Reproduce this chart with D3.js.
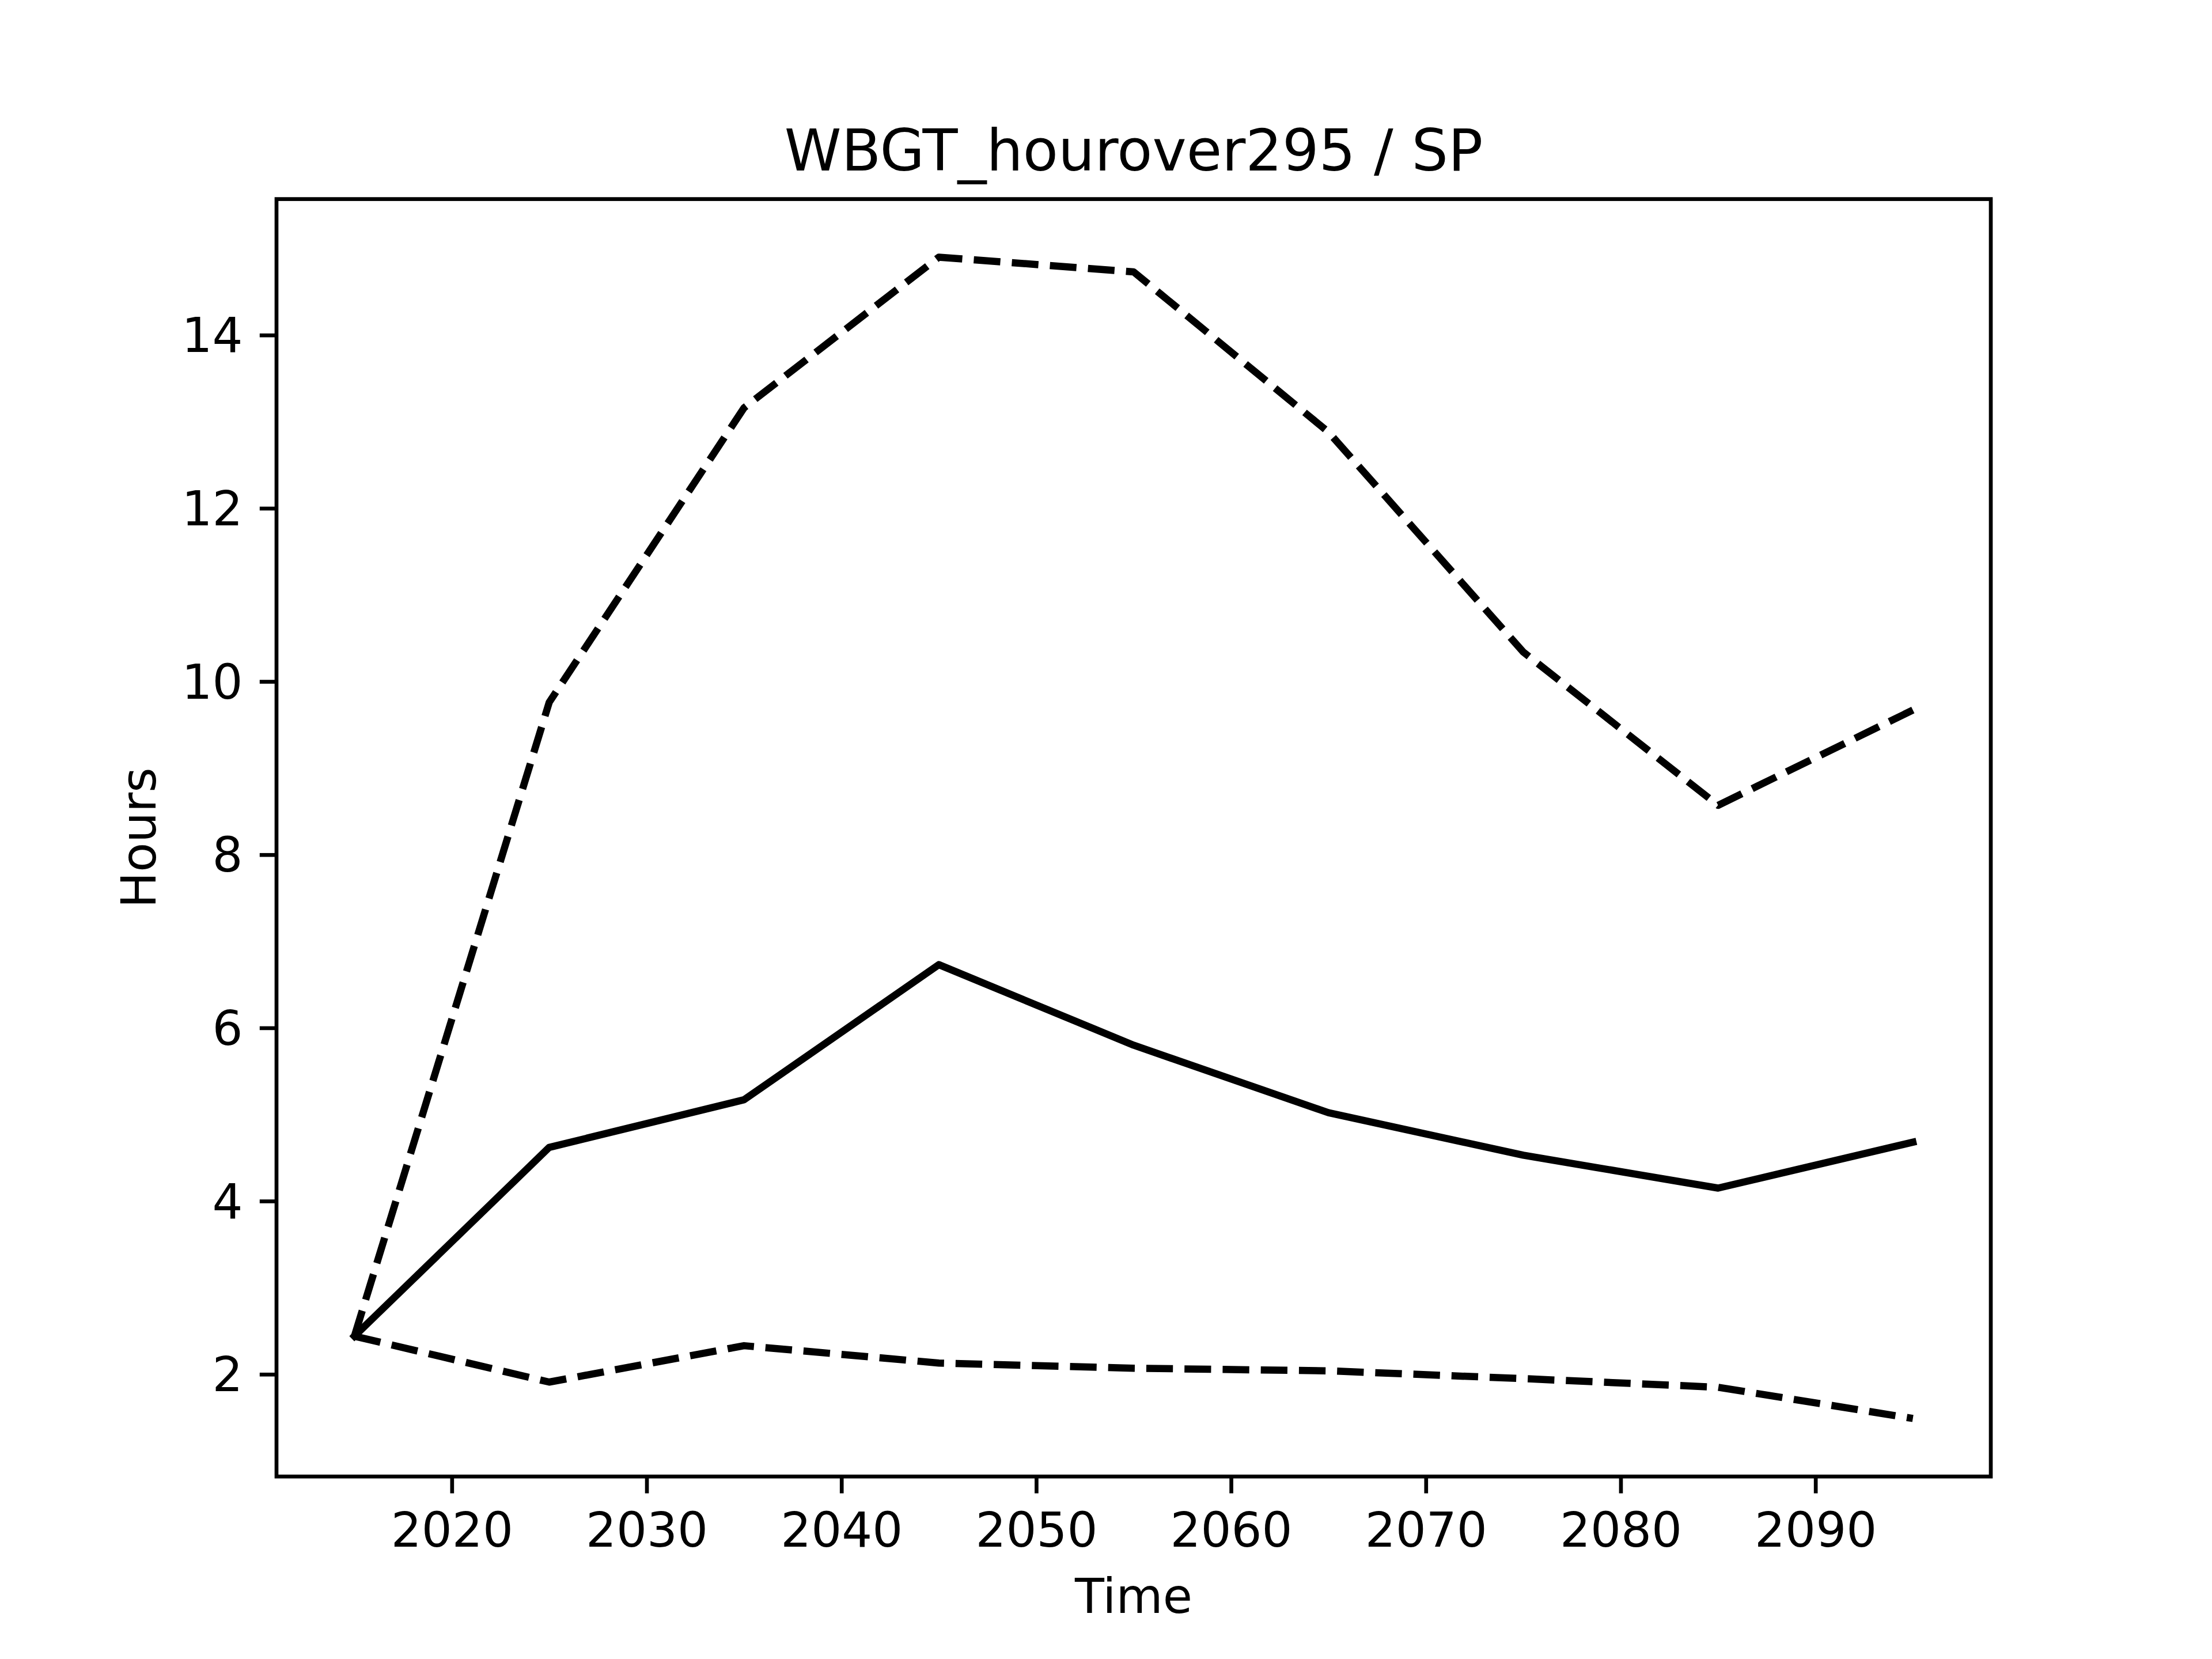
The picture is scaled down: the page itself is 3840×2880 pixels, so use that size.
<!DOCTYPE html>
<html>
<head>
<meta charset="utf-8">
<script src="https://cdn.jsdelivr.net/npm/d3@7"></script>
<style>
html,body{margin:0;padding:0;background:#fff;}
text{font-family:"DejaVu Sans",sans-serif;fill:#000;}
</style>
</head>
<body>
<script>
const years = [2015, 2025, 2035, 2045, 2055, 2065, 2075, 2085, 2095];
const meanValues = [2.44, 4.62, 5.17, 6.73, 5.80, 5.02, 4.53, 4.15, 4.68];
const upperValues = [2.44, 9.76, 13.16, 14.90, 14.73, 12.88, 10.34, 8.57, 9.67];
const lowerValues = [2.44, 1.91, 2.33, 2.13, 2.07, 2.04, 1.95, 1.85, 1.49];
const xTicks = [2020, 2030, 2040, 2050, 2060, 2070, 2080, 2090];
const yTicks = [2, 4, 6, 8, 10, 12, 14];
const titleText = "WBGT_hourover295 / SP";
const xLabel = "Time";
const yLabel = "Hours";

const W = 3840, H = 2880;
const L = 480, R = 3456, T = 345.6, B = 2563.2;

const svg = d3.select("body").append("svg").attr("width", W).attr("height", H);
svg.append("rect").attr("width", W).attr("height", H).attr("fill", "#fff");

const xmin = d3.min(years), xmax = d3.max(years);
const xm = (xmax - xmin) * 0.05;
const all = meanValues.concat(upperValues, lowerValues);
const ymin = d3.min(all), ymax = d3.max(all);
const ym = (ymax - ymin) * 0.05;

const x = d3.scaleLinear().domain([xmin - xm, xmax + xm]).range([L, R]);
const y = d3.scaleLinear().domain([ymin - ym, ymax + ym]).range([B, T]);

const lw = 12.5;
const line = d3.line().x((d, i) => x(years[i])).y(d => y(d));

const g = svg.append("g");
g.append("path").datum(upperValues).attr("d", line).attr("fill", "none")
  .attr("stroke", "#000").attr("stroke-width", lw).attr("stroke-dasharray", "46.25,20")
  .attr("stroke-linejoin", "round");
g.append("path").datum(lowerValues).attr("d", line).attr("fill", "none")
  .attr("stroke", "#000").attr("stroke-width", lw).attr("stroke-dasharray", "46.25,20")
  .attr("stroke-linejoin", "round");
g.append("path").datum(meanValues).attr("d", line).attr("fill", "none")
  .attr("stroke", "#000").attr("stroke-width", lw).attr("stroke-linejoin", "round")
  .attr("stroke-linecap", "square");

const fs = 83.33;
const tickLen = 29.2, pad = 29.2, sw = 6.67;

const xAxis = d3.axisBottom(x).tickValues(xTicks).tickFormat(d3.format("d"))
  .tickSize(tickLen).tickPadding(pad);
const xg = svg.append("g").attr("transform", `translate(0,${B})`).call(xAxis);
xg.select(".domain").remove();
xg.selectAll(".tick line").attr("stroke", "#000").attr("stroke-width", sw);
xg.selectAll(".tick text").attr("font-size", fs).attr("font-family", "DejaVu Sans")
  .attr("dy", "0.76em").attr("y", tickLen + pad);

const yAxis = d3.axisLeft(y).tickValues(yTicks).tickFormat(d3.format("d"))
  .tickSize(tickLen).tickPadding(pad);
const yg = svg.append("g").attr("transform", `translate(${L},0)`).call(yAxis);
yg.select(".domain").remove();
yg.selectAll(".tick line").attr("stroke", "#000").attr("stroke-width", sw);
yg.selectAll(".tick text").attr("font-size", fs).attr("font-family", "DejaVu Sans")
  .attr("dy", "0.35em");

svg.append("rect").attr("x", L).attr("y", T).attr("width", R - L).attr("height", B - T)
  .attr("fill", "none").attr("stroke", "#000").attr("stroke-width", sw);

svg.append("text").attr("x", (L + R) / 2).attr("y", T - 50)
  .attr("text-anchor", "middle").attr("font-size", 100).text(titleText);

svg.append("text").attr("x", (L + R) / 2).attr("y", 2800)
  .attr("text-anchor", "middle").attr("font-size", fs).text(xLabel);

svg.append("text").attr("transform", `translate(270,${(T + B) / 2}) rotate(-90)`)
  .attr("text-anchor", "middle").attr("font-size", fs).text(yLabel);
</script>
</body>
</html>
